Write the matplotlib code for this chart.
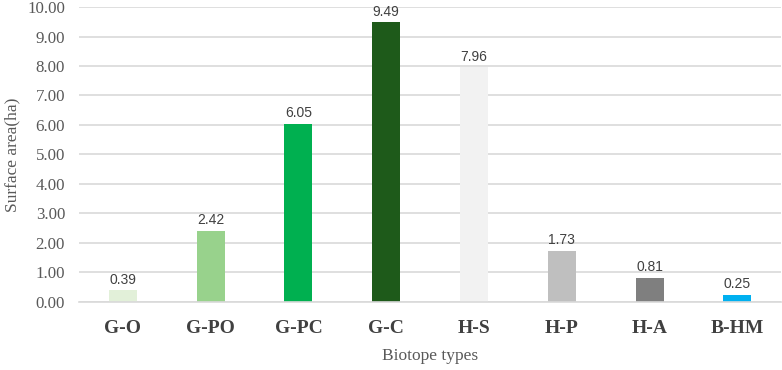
import matplotlib.pyplot as plt

types = ["G-O", "G-PO", "G-PC", "G-C", "H-S", "H-P", "H-A", "B-HM"]
areas = [0.39, 2.42, 6.05, 9.49, 7.96, 1.73, 0.81, 0.25]
colors = ["#e2f0d9", "#98d28c", "#00b050", "#1e5a1a", "#f2f2f2", "#bfbfbf", "#7f7f7f", "#00b0f0"]

plt.rcParams['font.family'] = ['Liberation Serif', 'DejaVu Serif']

fig = plt.figure(figsize=(7.82, 3.70), dpi=100)
ax = fig.add_axes([0.101, 0.184, 0.898, 0.797])

x = range(len(types))
ax.bar(x, areas, width=0.32, color=colors, zorder=2)
for xi, v in zip(x, areas):
    ax.text(xi, v + 0.12, f"{v:.2f}", ha='center', va='bottom', fontsize=10,
            family=['Liberation Sans', 'DejaVu Sans'], color='#404040')

ax.set_ylim(0, 10)
ax.set_xlim(-0.5, len(types) - 0.5)
ax.set_yticks(range(0, 11))
ax.set_yticklabels([f"{t:.2f}" for t in range(0, 11)], fontsize=12.2, color='#595959')
ax.set_xticks(list(x))
ax.set_xticklabels(types, fontsize=14, fontweight='bold', color='#404040')
ax.tick_params(axis='both', length=0)
ax.tick_params(axis='x', pad=13)
ax.tick_params(axis='y', pad=10)

ax.grid(axis='y', color='#d9d9d9', linewidth=1.2, zorder=0)
for s in ['top', 'right', 'left']:
    ax.spines[s].set_visible(False)
ax.spines['bottom'].set_color('#d9d9d9')
ax.spines['bottom'].set_linewidth(1.2)

ax.set_xlabel("Biotope types", fontsize=12.5, color='#595959', labelpad=8)
ax.set_ylabel("Surface area(ha)", fontsize=12.5, color='#595959')
ax.yaxis.set_label_coords(-0.083, 0.5)

fig.savefig("out.png", dpi=100)
